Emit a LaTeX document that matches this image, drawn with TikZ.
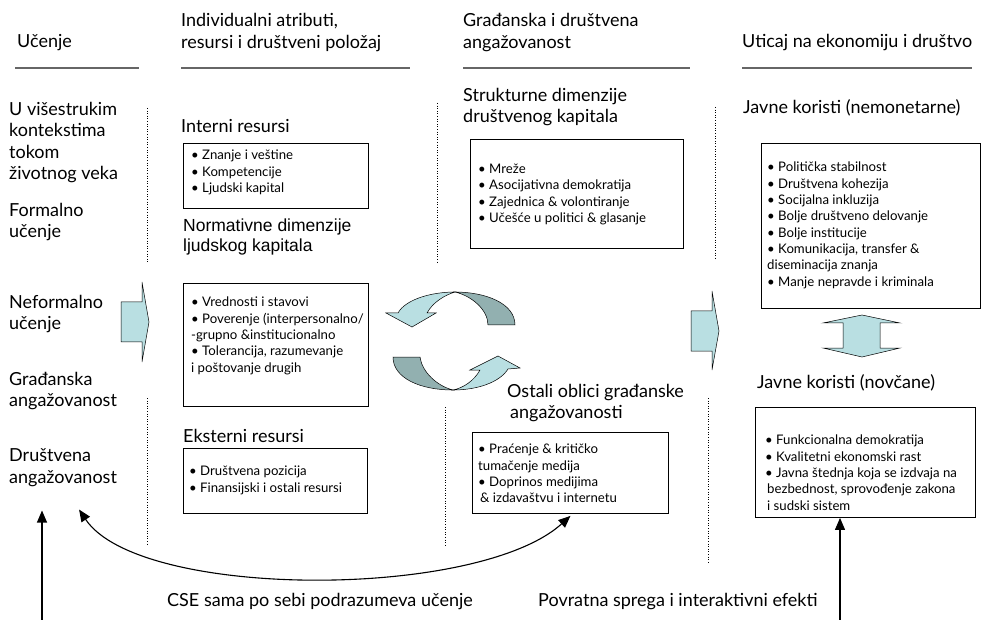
\documentclass[tikz,border=0pt]{standalone}
\usepackage{fontspec}
\setmainfont{Lato}
\newfontfamily\arialfont{Liberation Sans}
\usetikzlibrary{arrows.meta}
\definecolor{lightarrow}{RGB}{185,223,226}
\definecolor{darkarrow}{RGB}{146,176,176}
\begin{document}
\begin{tikzpicture}[x=1pt, y=-1pt, >={Triangle[length=12pt,width=10pt]},
  head/.style={font=\fontsize{18}{21.5}\selectfont, align=left, anchor=west, inner sep=0pt},
  box/.style={draw, line width=0.9pt, anchor=north west, inner sep=0pt},
  items/.style={font=\fontsize{13.2}{16.3}\selectfont, align=left, anchor=north west, inner sep=0pt},
  rule/.style={draw=black!60, line width=1.4pt},
  sep/.style={dotted, line width=0.6pt},
  light/.style={fill=lightarrow, draw=black, line width=0.5pt},
  dark/.style={fill=darkarrow, draw=black, line width=0.5pt}]
\useasboundingbox (0,0) rectangle (988,620);
% column heads
\node[head] (ucenje) at (17,43) {Učenje};
\node[head] (indiv) at (181,32.5) {Individualni atributi,\\resursi i društveni položaj};
\node[head] (gradj) at (463,32.5) {Građanska i društvena\\angažovanost};
\node[head] (uticaj) at (742,43) {Uticaj na ekonomiju i društvo};
\foreach \a/\b in {15/139, 181/410, 463/690, 742/972}
   \draw[rule](\a,68)--(\b,68);
\foreach \x/\a/\b in {147/108/263, 147/398/545, 437/103/263, 445/407/547, 715/107/258, 708/398/562}
   \draw[sep](\x,\a)--(\x,\b);

% learning
\node[head] (visestr) at (9,142.5) {U višestrukim\\kontekstima\\tokom\\životnog veka};
\node[head] (formal) at (9,222) {Formalno\\učenje};
\node[head] (neform) at (9,314) {Neformalno\\učenje};
\node[head] (gang) at (9,391) {Građanska\\angažovanost};
\node[head] (dang) at (9,467.5) {Društvena\\angažovanost};

% individual attributes
\node[head] (interniH) at (181,126) {Interni resursi};
\node[box, minimum width=185pt, minimum height=65pt] (interni) at (183,143) {};
\node[items] (interniT) at ([shift={(8,7)}]interni.north west) {• Znanje i veštine\\• Kompetencije\\• Ljudski kapital};
\node[head, font=\arialfont\fontsize{17.5}{20}\selectfont] (normH) at (183,237) {Normativne dimenzije\\ljudskog kapitala};
\node[box, minimum width=185pt, minimum height=123pt] (vred) at (183,283) {};
\node[items] (vredT) at ([shift={(8,14)}]vred.north west) {• Vrednosti i stavovi\\• Poverenje (interpersonalno/\\-grupno \&institucionalno\\• Tolerancija, razumevanje\\i poštovanje drugih};
\node[head] (eksH) at (183,436) {Eksterni resursi};
\node[box, minimum width=184pt, minimum height=65pt] (eks) at (183,448) {};
\node[items] (eksT) at ([shift={(6,18)}]eks.north west) {• Društvena pozicija\\• Finansijski i ostali resursi};

% engagement
\node[head] (strukH) at (463,107) {Strukturne dimenzije\\društvenog kapitala};
\node[box, minimum width=213pt, minimum height=109pt] (mreze) at (470,139) {};
\node[items] (mrezeT) at ([shift={(8,25)}]mreze.north west) {• Mreže\\• Asocijativna demokratija\\• Zajednica \& volontiranje\\• Učešće u politici \& glasanje};
\node[head] (ostaliH) at (507,403) {Ostali oblici građanske\\\hspace{3pt}angažovanosti};
\node[box, minimum width=196pt, minimum height=81pt] (ostbox) at (472,432) {};
\node[items] (ostT) at ([shift={(6,12)}]ostbox.north west) {• Praćenje \& kritičko\\tumačenje medija\\• Doprinos medijima\\\hspace{2pt}\& izdavaštvu i internetu};

% impact
\node[head] (nemonH) at (743,108) {Javne koristi (nemonetarne)};
\node[box, minimum width=219pt, minimum height=165pt] (nemon) at (761,143) {};
\node[items] (nemonT) at ([shift={(6,19)}]nemon.north west) {• Politička stabilnost\\• Društvena kohezija\\• Socijalna inkluzija\\• Bolje društveno delovanje\\• Bolje institucije\\• Komunikacija, transfer \&\\diseminacija znanja\\• Manje nepravde i kriminala};
\node[head] (novcH) at (757,383) {Javne koristi (novčane)};
\node[box, minimum width=220pt, minimum height=110pt] (novbox) at (755,407) {};
\node[items] (novT) at ([shift={(10,28)}]novbox.north west) {• Funkcionalna demokratija\\• Kvalitetni ekonomski rast\\• Javna štednja koja se izdvaja na\\\hspace{2pt}bezbednost, sprovođenje zakona\\\hspace{2pt}i sudski sistem};

% block arrows
\draw[light](121,302)--(142,302)--(142,282)--(149,322)--(142,362)--(142,342)--(121,342)--cycle;
\draw[light](691,311)--(712,311)--(712,291)--(719,331)--(712,370)--(712,351)--(691,351)--cycle;
\draw[light](843,323)--(823,323)--(862,315)--(900,323)--(880,323)--(880,348)--(900,348)--(862,357)--(823,348)--(843,348)--cycle;
% cycle arrows
\draw[dark](455,292) .. controls (485,292) and (515,303) .. (515,325)--(488,325) .. controls (488,310) and (472,296) .. (455,292)--cycle;
\draw[light](455,292) .. controls (430,292) and (405,300) .. (398,313)--(386,313)--(412,327)--(436,313)--(427,313) .. controls (433,302) and (445,295) .. (455,292)--cycle;
\draw[dark](453,390) .. controls (420,390) and (393,378) .. (393,357)--(420,357) .. controls (422,372) and (437,386) .. (453,390)--cycle;
\draw[light](453,390) .. controls (478,390) and (500,382) .. (508,369)--(520,368)--(498,356)--(470,370)--(480,370) .. controls (474,381) and (463,388) .. (453,390)--cycle;

% feedback
\coordinate (lb) at (42,622);
\coordinate (rb) at (840,622);
\draw[->, line width=1.1pt](lb)--([yshift=-24pt]lb |- dang.south);
\draw[->, line width=1.1pt](rb)--(rb |- novbox.south);
\draw[<->, line width=1.1pt]([shift={(16,23)}]dang.south) .. controls +(60,90) and +(-93,84) .. ([yshift=-2pt]ostbox.south);
\node[head] (cse) at (167,602) {CSE sama po sebi podrazumeva učenje};
\node[head] (povratna) at (538,602) {Povratna sprega i interaktivni efekti};
\end{tikzpicture}
\end{document}
